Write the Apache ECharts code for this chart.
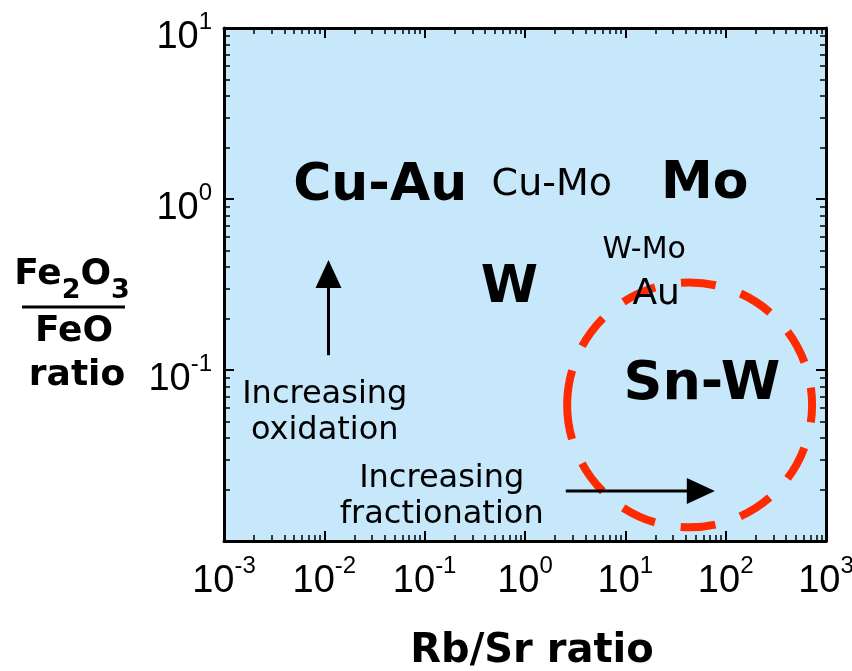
<!DOCTYPE html>
<html>
<head>
<meta charset="utf-8">
<script src="https://cdn.jsdelivr.net/npm/echarts@6/dist/echarts.min.js"></script>
<style>
  html, body { margin: 0; padding: 0; background: #ffffff; }
  #chart { width: 852px; height: 671px; }
</style>
</head>
<body>
<div id="chart"></div>
<script>
// Ore-deposit fields on a Rb/Sr versus Fe2O3/FeO diagram (both axes logarithmic)
const xRange = [0.001, 1000];
const yRange = [0.01, 10];

// Deposit-type labels placed at their (Rb/Sr, Fe2O3/FeO) positions
const depositNames = ['Cu-Au', 'Cu-Mo', 'Mo', 'W', 'W-Mo', 'Au', 'Sn-W'];
const depositRbSr = [0.036, 1.85, 62, 0.70, 15.4, 20.3, 58];
const depositFeRatio = [1.19, 1.21, 1.22, 0.30, 0.50, 0.276, 0.082];
const depositFontSize = [52, 38, 52, 52, 30, 36, 54];
const depositBold = [true, false, true, true, false, false, true];

// Trend captions
const trendNames = ['Increasing\noxidation', 'Increasing\nfractionation'];
const trendRbSr = [0.0101, 0.148];
const trendFeRatio = [0.056, 0.0182];

// Trend arrows: start and tip
const arrowStartRbSr = [0.011, 2.55];
const arrowStartFeRatio = [0.122, 0.0196];
const arrowEndRbSr = [0.011, 78];
const arrowEndFeRatio = [0.44, 0.0196];

// Sn-W target field: horizontal and vertical extents
const fieldRbSr = [2.6, 735];
const fieldFeRatio = [0.0121, 0.323];

function powerLabel(v) {
  const e = Math.round(Math.log10(v));
  return '{b|10}{s|' + e + '}';
}

const tickFont = 'Liberation Sans';
const labelFont = 'DejaVu Sans';

const axisCommon = {
  type: 'log',
  logBase: 10,
  axisLine: { show: true, onZero: false, lineStyle: { color: '#000', width: 3 } },
  axisTick: { show: true, inside: true, length: 10, lineStyle: { color: '#000', width: 2 } },
  minorTick: { show: true, splitNumber: 9, length: 6, lineStyle: { color: '#000', width: 1.5 } },
  splitLine: { show: false },
  minorSplitLine: { show: false }
};

// base "10" plus a raised exponent
const tickRich = {
  b: { fontSize: 38, lineHeight: 42, fontFamily: tickFont, color: '#000' },
  s: { fontSize: 24, height: 10, lineHeight: 10, verticalAlign: 'top', fontFamily: tickFont, color: '#000' }
};

const chart = echarts.init(document.getElementById('chart'), null, { renderer: 'canvas' });

const depositData = depositNames.map((n, i) => ({
  name: n,
  value: [depositRbSr[i], depositFeRatio[i]],
  label: {
    fontSize: depositFontSize[i],
    fontWeight: depositBold[i] ? 'bold' : 'normal'
  }
}));

const trendData = trendNames.map((n, i) => ({
  name: n,
  value: [trendRbSr[i], trendFeRatio[i]]
}));

const arrowData = arrowStartRbSr.map((x, i) => [x, arrowStartFeRatio[i], arrowEndRbSr[i], arrowEndFeRatio[i]]);

const textOnly = {
  type: 'scatter',
  xAxisIndex: 0, yAxisIndex: 0,
  silent: true,
  z: 5,
  symbolSize: 1,
  itemStyle: { color: 'rgba(0,0,0,0)', opacity: 1 },
  emphasis: { disabled: true }
};

chart.setOption({
  animation: false,
  backgroundColor: '#ffffff',
  grid: {
    left: 224, right: 26, top: 28, bottom: 130,
    containLabel: false,
    outerBoundsMode: 'none',
    show: true, backgroundColor: '#c7e8fb', borderWidth: 0
  },
  xAxis: [
    Object.assign({}, axisCommon, {
      position: 'bottom',
      min: xRange[0], max: xRange[1],
      axisLabel: {
        show: true, margin: 20, formatter: powerLabel,
        fontFamily: tickFont, color: '#000',
        rich: tickRich
      },
      name: 'Rb/Sr ratio',
      nameLocation: 'middle',
      nameGap: 91,
      nameTextStyle: { fontFamily: labelFont, fontWeight: 'bold', fontSize: 40, color: '#000', padding: [0, 0, 0, 14] }
    }),
    Object.assign({}, axisCommon, {
      position: 'top',
      min: xRange[0], max: xRange[1],
      axisLabel: { show: false }
    })
  ],
  yAxis: [
    Object.assign({}, axisCommon, {
      position: 'left',
      min: yRange[0], max: yRange[1],
      axisLabel: {
        show: true, margin: 12, formatter: powerLabel, showMinLabel: false,
        padding: [20, 0, 0, 0],
        fontFamily: tickFont, color: '#000',
        rich: tickRich
      }
    }),
    Object.assign({}, axisCommon, {
      position: 'right',
      min: yRange[0], max: yRange[1],
      axisLabel: { show: false }
    })
  ],
  graphic: [
    {
      type: 'text', x: 72, y: 275,
      style: {
        text: '{b|Fe}{s|2}{b|O}{s|3}',
        align: 'center', verticalAlign: 'middle',
        rich: {
          b: { fontFamily: labelFont, fontWeight: 'bold', fontSize: 36, lineHeight: 36, fill: '#000' },
          s: { fontFamily: labelFont, fontWeight: 'bold', fontSize: 27, height: 4, lineHeight: 4, verticalAlign: 'bottom', fill: '#000' }
        }
      }
    },
    {
      type: 'line',
      shape: { x1: 22, y1: 307, x2: 125, y2: 307 },
      style: { stroke: '#000', lineWidth: 3 }
    },
    {
      type: 'text', x: 74, y: 332,
      style: {
        text: 'FeO', align: 'center', verticalAlign: 'middle',
        fontFamily: labelFont, fontWeight: 'bold', fontSize: 36, fill: '#000'
      }
    },
    {
      type: 'text', x: 77, y: 376,
      style: {
        text: 'ratio', align: 'center', verticalAlign: 'middle',
        fontFamily: labelFont, fontWeight: 'bold', fontSize: 36, fill: '#000'
      }
    }
  ],
  series: [
    {
      // dashed target field around Sn-W
      type: 'custom',
      xAxisIndex: 0, yAxisIndex: 0,
      silent: true,
      z: 3,
      data: [[fieldRbSr[0], fieldFeRatio[0], fieldRbSr[1], fieldFeRatio[1]]],
      encode: { x: [0, 2], y: [1, 3] },
      renderItem: function (params, api) {
        const pLeftBottom = api.coord([api.value(0), api.value(1)]);
        const pRightTop = api.coord([api.value(2), api.value(3)]);
        const cx = (pLeftBottom[0] + pRightTop[0]) / 2;
        const cy = (pLeftBottom[1] + pRightTop[1]) / 2;
        const r = ((pRightTop[0] - pLeftBottom[0]) + (pLeftBottom[1] - pRightTop[1])) / 4;
        const circumference = 2 * Math.PI * r;
        const dash = 35;
        const period = (circumference - dash) / 12;
        return {
          type: 'arc',
          shape: { cx: cx, cy: cy, r: r, startAngle: Math.PI, endAngle: 3 * Math.PI, clockwise: true },
          style: { stroke: '#ff2a00', fill: null, lineWidth: 8, lineDash: [dash, period - dash] }
        };
      }
    },
    {
      // trend arrows
      type: 'custom',
      xAxisIndex: 0, yAxisIndex: 0,
      silent: true,
      z: 4,
      data: arrowData,
      encode: { x: [0, 2], y: [1, 3] },
      renderItem: function (params, api) {
        const p0 = api.coord([api.value(0), api.value(1)]);
        const p1 = api.coord([api.value(2), api.value(3)]);
        const dx = p1[0] - p0[0], dy = p1[1] - p0[1];
        const len = Math.sqrt(dx * dx + dy * dy);
        const ux = dx / len, uy = dy / len;
        const headLen = 28, headHalf = 13;
        const bx = p1[0] - ux * headLen, by = p1[1] - uy * headLen;
        return {
          type: 'group',
          children: [
            { type: 'line', shape: { x1: p0[0], y1: p0[1], x2: bx + ux * 2, y2: by + uy * 2 }, style: { stroke: '#000', lineWidth: 3 } },
            { type: 'polygon', shape: { points: [[p1[0], p1[1]], [bx - uy * headHalf, by + ux * headHalf], [bx + uy * headHalf, by - ux * headHalf]] }, style: { fill: '#000' } }
          ]
        };
      }
    },
    Object.assign({}, textOnly, {
      // deposit-type labels
      label: {
        show: true, position: 'inside', formatter: '{b}',
        fontFamily: labelFont, color: '#000', textBorderWidth: 0
      },
      data: depositData
    }),
    Object.assign({}, textOnly, {
      // trend captions
      label: {
        show: true, position: 'inside', formatter: '{b}',
        fontFamily: labelFont, fontSize: 32, lineHeight: 36, align: 'center',
        color: '#000', textBorderWidth: 0
      },
      data: trendData
    })
  ]
});
</script>
</body>
</html>
